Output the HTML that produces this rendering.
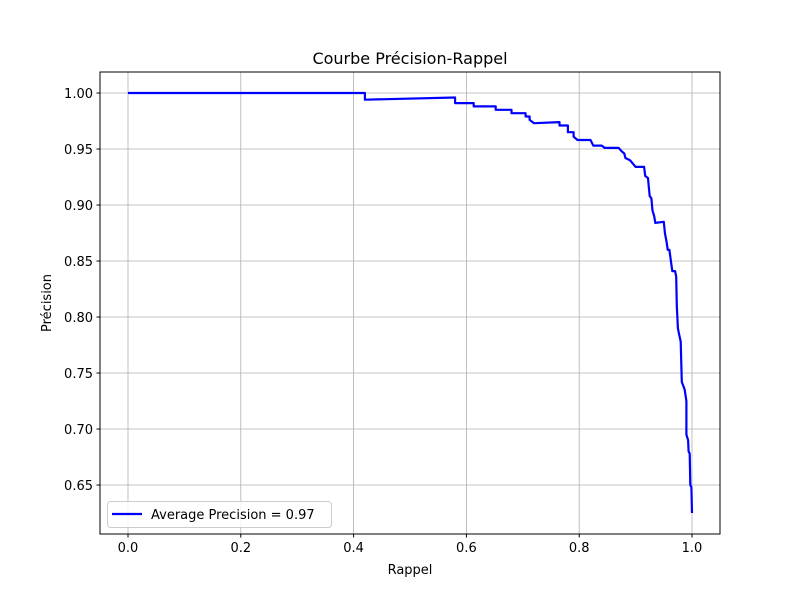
<!DOCTYPE html>
<html><head><meta charset="utf-8"><style>
body{margin:0;background:#fff}
svg{font-family:"DejaVu Sans","Liberation Sans",sans-serif}
</style></head><body>
<svg id="chart" width="800" height="600" viewBox="0 0 800 600">
<rect width="800" height="600" fill="#fff"/>
<g id="grid"></g>
<g id="ticks"></g>
<g id="series"></g>
<rect x="100" y="72" width="620" height="462" fill="none" stroke="#000" stroke-width="1"/>
<text x="410" y="64" text-anchor="middle" font-size="16">Courbe Précision-Rappel</text>
<text x="410" y="574" text-anchor="middle" font-size="13">Rappel</text>
<text transform="translate(51,303) rotate(-90)" text-anchor="middle" font-size="13">Précision</text>
<g>
<rect x="107.5" y="501.5" width="224" height="26" rx="3" fill="#fff" fill-opacity="0.8" stroke="#ccc"/>
<line x1="112" y1="514" x2="142" y2="514" stroke="#0000ff" stroke-width="2.2"/>
<text x="151" y="519" font-size="13">Average Precision = 0.97</text>
</g>
</svg>
<script>
const xTicks=[0,0.2,0.4,0.6,0.8,1.0];
const xTickLabels=["0.0","0.2","0.4","0.6","0.8","1.0"];
const yTicks=[0.65,0.70,0.75,0.80,0.85,0.90,0.95,1.00];
const yTickLabels=["0.65","0.70","0.75","0.80","0.85","0.90","0.95","1.00"];
const recall=[0,0.42,0.42,0.58,0.58,0.613,0.613,0.652,0.652,0.68,0.68,0.705,0.705,0.712,0.712,0.72,0.765,0.765,0.78,0.78,0.79,0.79,0.797,0.82,0.825,0.84,0.845,0.87,0.875,0.88,0.882,0.89,0.895,0.9,0.915,0.917,0.922,0.923,0.925,0.928,0.93,0.933,0.935,0.95,0.952,0.955,0.957,0.96,0.962,0.965,0.97,0.972,0.973,0.975,0.977,0.98,0.982,0.985,0.987,0.99,0.99,0.993,0.994,0.996,0.997,0.999,1.0];
const precision=[1.0,1.0,0.994,0.996,0.991,0.991,0.988,0.988,0.985,0.985,0.982,0.982,0.979,0.979,0.976,0.973,0.974,0.971,0.971,0.965,0.965,0.961,0.958,0.958,0.953,0.953,0.951,0.951,0.948,0.946,0.942,0.94,0.937,0.934,0.934,0.926,0.924,0.918,0.908,0.906,0.895,0.89,0.884,0.885,0.875,0.867,0.86,0.86,0.852,0.841,0.841,0.836,0.81,0.79,0.785,0.778,0.742,0.738,0.735,0.725,0.695,0.69,0.68,0.678,0.65,0.648,0.625];
const NS="http://www.w3.org/2000/svg";
const X=v=>128+v*564;
const Y=v=>93+(1-v)*1120;
const grid=document.getElementById('grid'),ticks=document.getElementById('ticks'),series=document.getElementById('series');
function mk(tag,attrs,parent,text){const e=document.createElementNS(NS,tag);for(const k in attrs)e.setAttribute(k,attrs[k]);if(text!==undefined)e.textContent=text;parent.appendChild(e);return e;}
xTicks.forEach((t,i)=>{const x=X(t);
 const g=mk('line',{x1:x,y1:72,x2:x,y2:534,stroke:'#b0b0b0','stroke-width':0.8},grid);
 
 
 mk('line',{x1:x,y1:534,x2:x,y2:537.5,stroke:'#000'},ticks);
 const l=mk('text',{x:x,y:552,'text-anchor':'middle','font-size':13},ticks,xTickLabels[i]);
 
 
});
yTicks.forEach((t,i)=>{const y=Y(t);
 const g=mk('line',{x1:100,y1:y,x2:720,y2:y,stroke:'#b0b0b0','stroke-width':0.8},grid);
 
 
 mk('line',{x1:96.5,y1:y,x2:100,y2:y,stroke:'#000'},ticks);
 const l=mk('text',{x:93,y:y+5,'text-anchor':'end','font-size':13},ticks,yTickLabels[i]);
 
 
});
const pts=recall.map((r,i)=>X(r).toFixed(1)+','+Y(precision[i]).toFixed(1)).join(' ');
const pl=mk('polyline',{points:pts,fill:'none',stroke:'#0000ff','stroke-width':2.2,'stroke-linejoin':'round'},series);


</script>
</body></html>
